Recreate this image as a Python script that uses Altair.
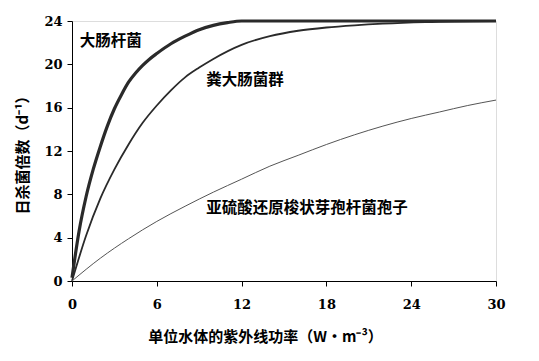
import altair as alt
import pandas as pd

# 大肠杆菌
ecoli_x = [0, 0.5, 1, 1.5, 2, 2.5, 3, 3.5, 4, 4.5, 5, 5.5, 6, 7, 8, 9, 10, 11, 12, 14, 16, 20, 25, 30]
ecoli_y = [0.3, 4.6, 7.8, 10.3, 12.4, 14.3, 15.9, 17.2, 18.35, 19.2, 19.9, 20.5, 21.0, 21.9, 22.6, 23.2, 23.6, 23.85, 24.0, 24.0, 24.0, 24.0, 24.0, 24.0]

# 粪大肠菌群
fecal_x = [0, 1, 2, 3, 4, 5, 6, 7, 8, 9, 10, 12, 14, 16, 18, 20, 22, 25, 30]
fecal_y = [0, 4.2, 7.6, 10.3, 12.6, 14.6, 16.2, 17.6, 18.8, 19.7, 20.5, 21.8, 22.6, 23.1, 23.4, 23.6, 23.75, 23.9, 24.0]

# 亚硫酸还原梭状芽孢杆菌孢子
spore_x = [0, 2, 4, 6, 8, 10, 12, 14, 16, 18, 20, 22, 24, 26, 28, 30]
spore_y = [0, 2.1, 3.9, 5.5, 6.9, 8.2, 9.4, 10.6, 11.6, 12.6, 13.5, 14.3, 15.0, 15.6, 16.2, 16.7]

label_text = ["大肠杆菌", "粪大肠菌群", "亚硫酸还原梭状芽孢杆菌孢子"]
label_x = [0.55, 9.5, 9.5]
label_y = [22.2, 18.6, 6.7]

x_ticks = [0, 6, 12, 18, 24, 30]
y_ticks = [0, 4, 8, 12, 16, 20, 24]

cjk = "Noto Sans CJK SC"
serif = "DejaVu Serif"

xs = alt.Scale(domain=[0, 30], nice=False)
ys = alt.Scale(domain=[0, 24], nice=False)

xaxis = alt.Axis(values=x_ticks, title="单位水体的紫外线功率（W·m⁻³）",
                 labelPadding=12, titleFontSize=15, titlePadding=18, titleX=193,
                 titleAnchor="middle")
yaxis = alt.Axis(values=y_ticks, title="日杀菌倍数（d⁻¹）",
                 labelPadding=5, titleFontSize=15, titlePadding=13)

def line(xv, yv, width, color):
    df = pd.DataFrame({"x": xv, "y": yv})
    return alt.Chart(df).mark_line(strokeWidth=width, color=color, interpolate="monotone").encode(
        x=alt.X("x:Q", scale=xs, axis=xaxis),
        y=alt.Y("y:Q", scale=ys, axis=yaxis),
    )

l1 = line(ecoli_x, ecoli_y, 3.2, "#2a2a2a")
l2 = line(fecal_x, fecal_y, 1.8, "#2a2a2a")
l3 = line(spore_x, spore_y, 1.0, "#555555")

labels = alt.Chart(pd.DataFrame({"t": label_text, "x": label_x, "y": label_y})).mark_text(
    align="left", baseline="middle", font=cjk, fontSize=15.5, fontWeight="bold", color="black"
).encode(x=alt.X("x:Q", scale=xs, axis=xaxis), y=alt.Y("y:Q", scale=ys, axis=yaxis), text="t:N")

chart = alt.layer(l1, l2, l3, labels).properties(
    width=424, height=260,
    autosize=alt.AutoSizeParams(type="none"),
    padding={"left": 64, "top": 13, "right": 30, "bottom": 70},
).configure_view(stroke=None).configure(background="white").configure_axis(
    grid=False, labelFont=serif, labelFontWeight="bold", labelFontSize=13,
    labelColor="black", tickSize=5, tickColor="black", domainColor="black",
    titleFont=cjk, titleFontWeight="bold", titleColor="black", labelFlush=False,
)

chart.save("out.html", embed_options={"renderer": "svg", "actions": False})
